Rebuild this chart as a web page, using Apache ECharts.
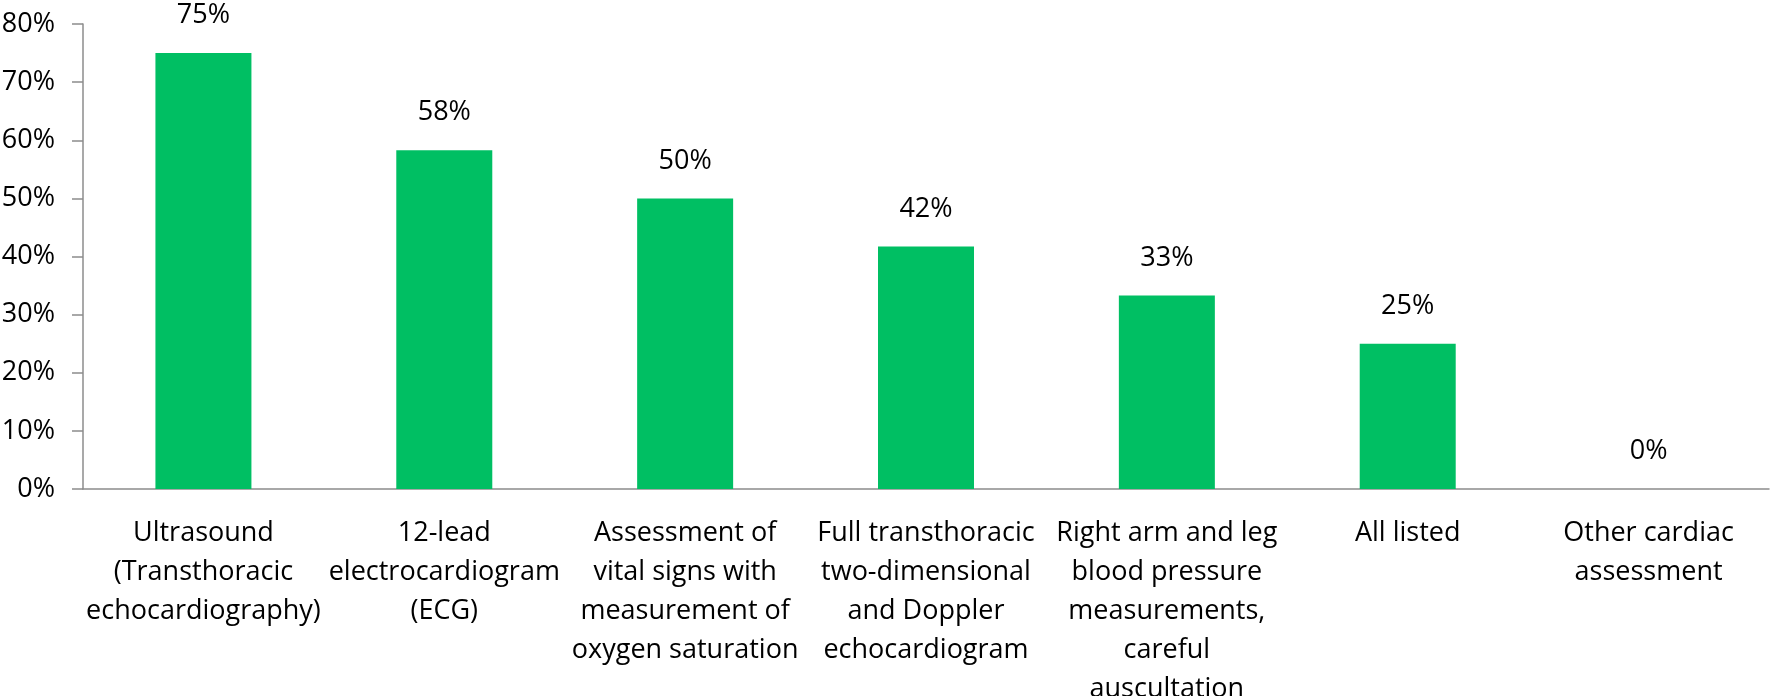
<!DOCTYPE html>
<html>
<head>
<meta charset="utf-8">
<script src="https://cdn.jsdelivr.net/npm/echarts@6/dist/echarts.min.js"></script>
<style>
  html, body { margin: 0; padding: 0; background: #fff; }
  #chart { width: 1771px; height: 696px; }
</style>
</head>
<body>
<div id="chart"></div>
<script>
const categories = [
  'Ultrasound\n(Transthoracic\nechocardiography)',
  '12-lead\nelectrocardiogram\n(ECG)',
  'Assessment of\nvital signs with\nmeasurement of\noxygen saturation',
  'Full transthoracic\ntwo-dimensional\nand Doppler\nechocardiogram',
  'Right arm and leg\nblood pressure\nmeasurements,\ncareful\nauscultation',
  'All listed',
  'Other cardiac\nassessment'
]
const values = [75, 58.3, 50, 41.7, 33.3, 25, 0]
const yTicks = { min: 0, max: 80, interval: 10 }

const axisColor = '#8c8c8c'
const fontFamily = '"Open Sans", sans-serif'

const chartInstance = echarts.init(document.getElementById('chart'))

const option = {
  animation: false,
  grid: {
    left: 83,
    right: 2,
    top: 24,
    bottom: 207,
    // keep the plot area fixed, labels may run off the bottom like in the original
    outerBoundsMode: 'none',
    containLabel: false
  },
  xAxis: {
    type: 'category',
    data: categories,
    axisLine: { lineStyle: { color: axisColor, width: 1.5 } },
    axisTick: { length: 10, lineStyle: { color: axisColor, width: 1.5 } },
    axisLabel: {
      interval: 0,
      margin: 25,
      color: '#000',
      fontFamily: fontFamily,
      fontSize: 27,
      lineHeight: 39
    }
  },
  yAxis: {
    type: 'value',
    min: yTicks.min,
    max: yTicks.max,
    interval: yTicks.interval,
    splitLine: { show: false },
    axisLine: { show: true, lineStyle: { color: axisColor, width: 1.5 } },
    axisTick: { show: true, length: 11, lineStyle: { color: axisColor, width: 1.5 } },
    axisLabel: {
      margin: 28,
      color: '#000',
      fontFamily: fontFamily,
      fontSize: 27,
      formatter: '{value}%'
    }
  },
  series: [
    {
      type: 'bar',
      data: values,
      barWidth: 96,
      itemStyle: { color: '#00bf63' },
      label: {
        show: true,
        position: 'top',
        distance: 24,
        color: '#000',
        fontFamily: fontFamily,
        fontSize: 27,
        formatter: (p) => Math.round(p.value) + '%'
      }
    }
  ]
}

chartInstance.setOption(option)
window.addEventListener('resize', () => chartInstance.resize())
</script>
</body>
</html>
